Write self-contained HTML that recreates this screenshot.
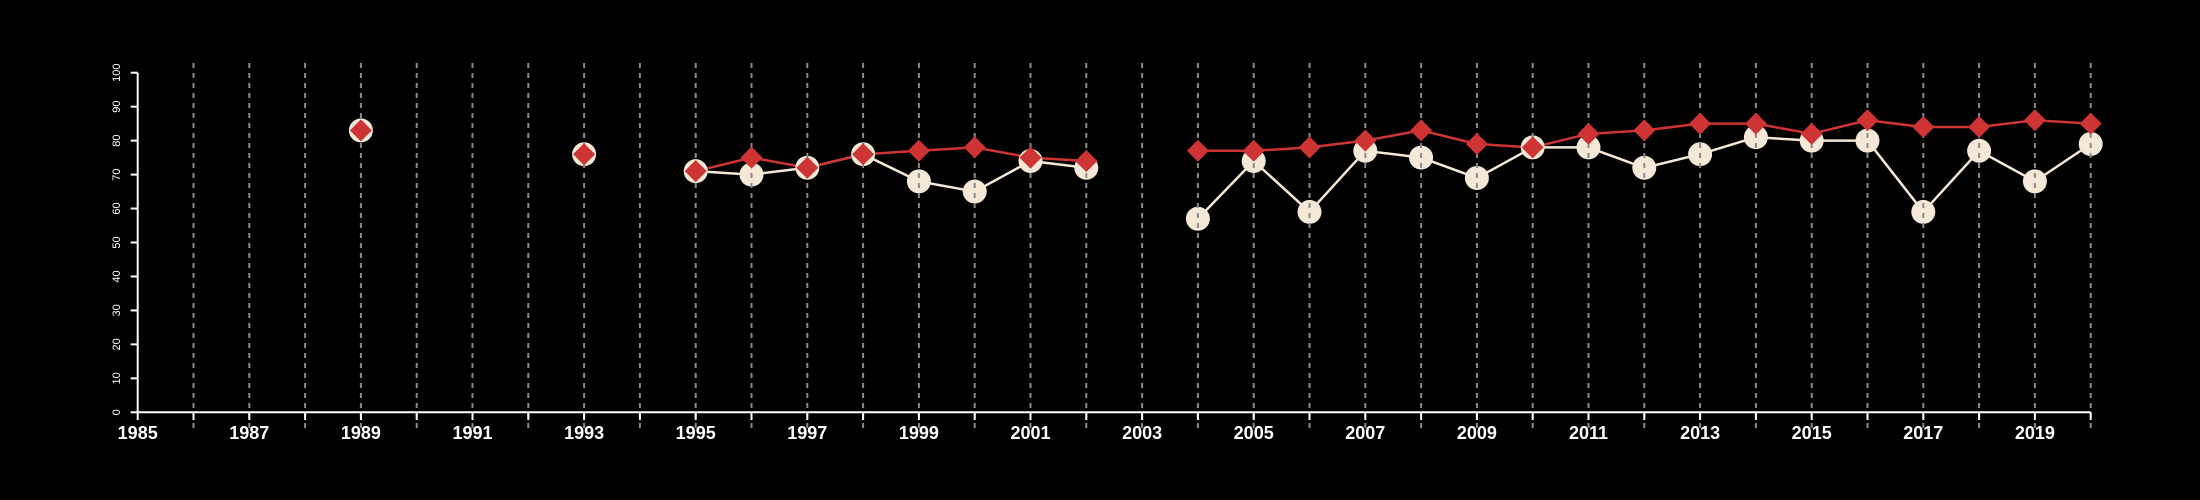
<!DOCTYPE html>
<html><head><meta charset="utf-8"><style>
html,body{margin:0;padding:0;background:#000;}
svg{display:block;font-family:"Liberation Sans",sans-serif;}
</style></head><body>
<svg id="chart" width="2200" height="500" xmlns="http://www.w3.org/2000/svg">
<rect width="2200" height="500" fill="#000"/>
</svg>
<script>
const years = [1989,1990,1991,1992,1993,1994,1995,1996,1997,1998,1999,2000,2001,2002,2003,2004,2005,2006,2007,2008,2009,2010,2011,2012,2013,2014,2015,2016,2017,2018,2019,2020];
const redSeries = [83,null,null,null,76,null,71,75,72,76,77,78,75,74,null,77,77,78,80,83,79,78,82,83,85,85,82,86,84,84,86,85];
const whiteSeries = [83,null,null,null,76,null,71,70,72,76,68,65,74,72,null,57,74,59,77,75,69,78,78,72,76,81,80,80,59,77,68,79];
const yTicks = [0,10,20,30,40,50,60,70,80,90,100];
const xLabelYears = [1985,1987,1989,1991,1993,1995,1997,1999,2001,2003,2005,2007,2009,2011,2013,2015,2017,2019];

const svg = document.getElementById('chart');
const NS = 'http://www.w3.org/2000/svg';
const X0 = 137.7, PX = 55.8, Y0 = 412.3, PY = 3.396;
const xs = y => X0 + (y - 1985) * PX;
const ys = v => Y0 - v * PY;
function mk(tag, attrs, parent) {
  const e = document.createElementNS(NS, tag);
  for (const k in attrs) e.setAttribute(k, attrs[k]);
  (parent || svg).appendChild(e);
  return e;
}
const gLines = mk('g', {});


const gCircles = mk('g', {});


const gGrid = mk('g', {});


const gDiam = mk('g', {});


const gAxes = mk('g', {});



function drawLine(series, color, name) {
  for (let i = 0; i + 1 < years.length; i++) {
    if (series[i] == null || series[i + 1] == null || years[i + 1] - years[i] !== 1) continue;
    const l = mk('line', {x1: xs(years[i]), y1: ys(series[i]), x2: xs(years[i + 1]), y2: ys(series[i + 1]), stroke: color, 'stroke-width': 2.5}, gLines);
    
    
  }
}
drawLine(whiteSeries, '#f5e8d6', 'white-line-segment');
drawLine(redSeries, '#cf3434', 'red-line-segment');

years.forEach((yr, i) => {
  if (whiteSeries[i] == null) return;
  const c = mk('circle', {cx: xs(yr), cy: ys(whiteSeries[i]), r: 12, fill: '#f5e8d6'}, gCircles);
  
  
});

for (let yr = 1986; yr <= 2020; yr++) {
  const l = mk('line', {x1: xs(yr), y1: 63, x2: xs(yr), y2: 428, stroke: '#8a8a8a', 'stroke-width': 2, 'stroke-dasharray': '5,5'}, gGrid);
  
  
}

years.forEach((yr, i) => {
  if (redSeries[i] == null) return;
  const cx = xs(yr), cy = ys(redSeries[i]), h = 11;
  const p = mk('polygon', {points: `${cx},${cy - h} ${cx + h},${cy} ${cx},${cy + h} ${cx - h},${cy}`, fill: '#cf3434'}, gDiam);
  
  
});

const xa = mk('line', {x1: xs(1985), y1: Y0, x2: xs(2020), y2: Y0, stroke: '#fff', 'stroke-width': 2}, gAxes);


const ya = mk('line', {x1: X0, y1: ys(0), x2: X0, y2: ys(100), stroke: '#fff', 'stroke-width': 2}, gAxes);


for (let yr = 1985; yr <= 2020; yr++) {
  const t = mk('line', {x1: xs(yr), y1: Y0, x2: xs(yr), y2: 420, stroke: '#fff', 'stroke-width': 2}, gAxes);
  
  
}
xLabelYears.forEach(yr => {
  const t = mk('text', {x: xs(yr), y: 439, fill: '#fff', 'font-size': 18, 'font-weight': 'bold', 'text-anchor': 'middle'}, gAxes);
  t.textContent = yr;
  
  
});
yTicks.forEach(v => {
  const t = mk('line', {x1: X0 - 7, y1: ys(v), x2: X0, y2: ys(v), stroke: '#fff', 'stroke-width': 2}, gAxes);
  
  
  const lb = mk('text', {x: 0, y: 0, fill: '#fff', 'font-size': 11, 'text-anchor': 'middle', transform: `translate(120,${ys(v)}) rotate(-90)`}, gAxes);
  lb.textContent = v;
  
  
});
</script>
</body></html>
